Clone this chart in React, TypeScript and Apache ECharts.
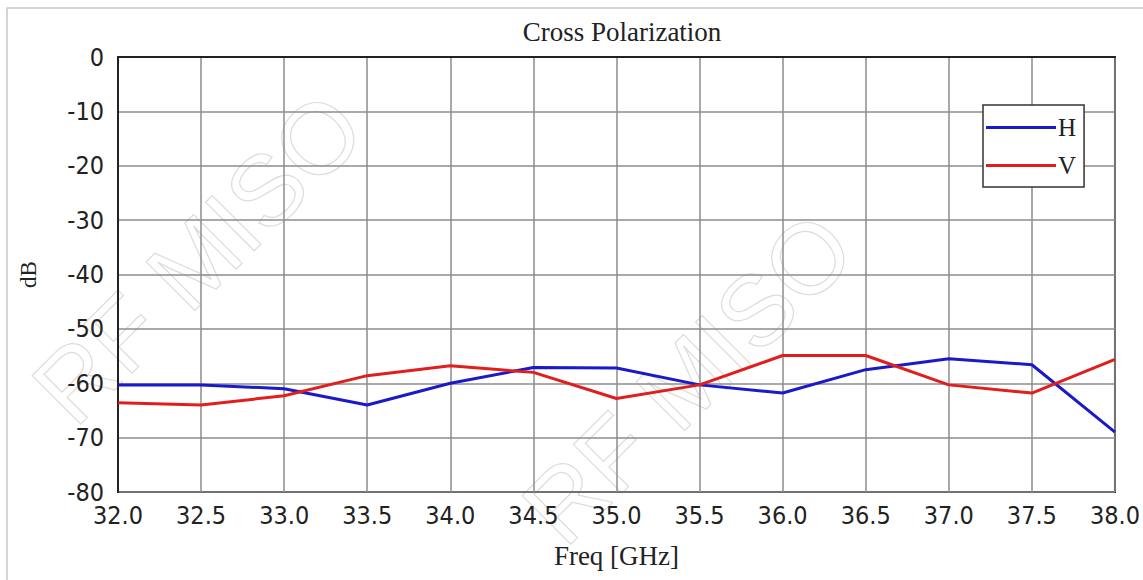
import React, { useEffect, useRef } from "react";
import * as echarts from "echarts";

const freqs = [32.0, 32.5, 33.0, 33.5, 34.0, 34.5, 35.0, 35.5, 36.0, 36.5, 37.0, 37.5, 38.0];
const hValues = [-60.3, -60.3, -61.0, -64.0, -60.0, -57.1, -57.2, -60.3, -61.8, -57.5, -55.5, -56.6, -69.0];
const vValues = [-63.6, -64.0, -62.3, -58.6, -56.8, -58.0, -62.8, -60.3, -54.9, -54.9, -60.3, -61.8, -55.6];
const seriesNames = ["H", "V"];
const title = "Cross Polarization";
const xName = "Freq [GHz]";
const yName = "dB";

const labelFont = '"Liberation Sans Narrow", "DejaVu Sans Condensed", "Liberation Sans", sans-serif';
const serifFont = '"Liberation Serif", "DejaVu Serif", serif';

export default function App() {
  const ref = useRef<HTMLDivElement>(null);
  useEffect(() => {
    document.body.style.margin = "0";
    const chart = echarts.init(ref.current!, null, { renderer: "svg" });
    const wm = (x: number, y: number, rot: number, size: number, text: string) => ({
      type: "text",
      x,
      y,
      rotation: rot,
      silent: true,
      z: -10,
      style: {
        text,
        fill: "rgba(255,255,255,0)",
        stroke: "#dcdcdc",
        lineWidth: 1.2,
        font: `${size}px "Liberation Sans", sans-serif`,
      },
    });
    chart.setOption({
      animation: false,
      backgroundColor: "#ffffff",
      title: {
        text: title,
        left: 617,
        top: 13,
        textAlign: "center",
        textStyle: { fontFamily: serifFont, fontSize: 27, fontWeight: "normal", color: "#222" },
      },
      graphic: [
        {
          type: "rect",
          shape: { x: 7, y: 8, width: 1200, height: 620 },
          style: { fill: "none", stroke: "#c8c8c8", lineWidth: 1.5 },
          silent: true,
          z: -20,
        },
        wm(15, 370, Math.PI / 4, 100, "RF MISO"),
        wm(505, 490, Math.PI / 4, 100, "RF MISO"),
      ],
      legend: {
        data: seriesNames,
        orient: "vertical",
        left: 983,
        top: 105,
        icon: "rect",
        itemWidth: 70,
        itemHeight: 3,
        itemGap: 13,
        padding: [10, 8, 9, 3],
        backgroundColor: "#ffffff",
        borderColor: "#333",
        borderWidth: 1.5,
        textStyle: { fontFamily: serifFont, fontSize: 25, color: "#222", lineHeight: 22, padding: [0, 0, 0, -3] },
      },
      grid: {
        left: 118,
        right: 28,
        top: 57,
        bottom: 88,
        show: true,
        borderColor: "#222",
        borderWidth: 2,
      },
      xAxis: {
        type: "value",
        min: 32,
        max: 38,
        interval: 0.5,
        name: xName,
        nameLocation: "middle",
        nameGap: 50,
        nameTextStyle: { fontFamily: serifFont, fontSize: 27, color: "#222" },
        axisLine: { show: true, lineStyle: { color: "#222", width: 2 } },
        axisTick: { show: false },
        splitLine: { show: true, lineStyle: { color: "#8c8c8c", width: 1.5 } },
        axisLabel: {
          fontFamily: labelFont,
          fontSize: 25,
          color: "#222",
          margin: 11,
          formatter: (v: number) => v.toFixed(1),
        },
      },
      yAxis: {
        type: "value",
        min: -80,
        max: 0,
        interval: 10,
        name: yName,
        nameLocation: "middle",
        nameGap: 78,
        nameRotate: 90,
        nameTextStyle: { fontFamily: serifFont, fontSize: 23, color: "#222" },
        axisLine: { show: true, lineStyle: { color: "#222", width: 2 } },
        axisTick: { show: false },
        splitLine: { show: true, lineStyle: { color: "#8c8c8c", width: 1.5 } },
        axisLabel: { fontFamily: labelFont, fontSize: 25, color: "#222", margin: 14 },
      },
      series: [
        {
          name: seriesNames[0],
          type: "line",
          data: freqs.map((f, i) => [f, hValues[i]]),
          showSymbol: false,
          symbol: "none",
          lineStyle: { color: "#1a1ac8", width: 3 },
          itemStyle: { color: "#1a1ac8" },
        },
        {
          name: seriesNames[1],
          type: "line",
          data: freqs.map((f, i) => [f, vValues[i]]),
          showSymbol: false,
          symbol: "none",
          lineStyle: { color: "#e01e1e", width: 3 },
          itemStyle: { color: "#e01e1e" },
        },
      ],
    });
    return () => chart.dispose();
  }, []);
  return <div ref={ref} style={{ width: 1143, height: 580 }} />;
}
